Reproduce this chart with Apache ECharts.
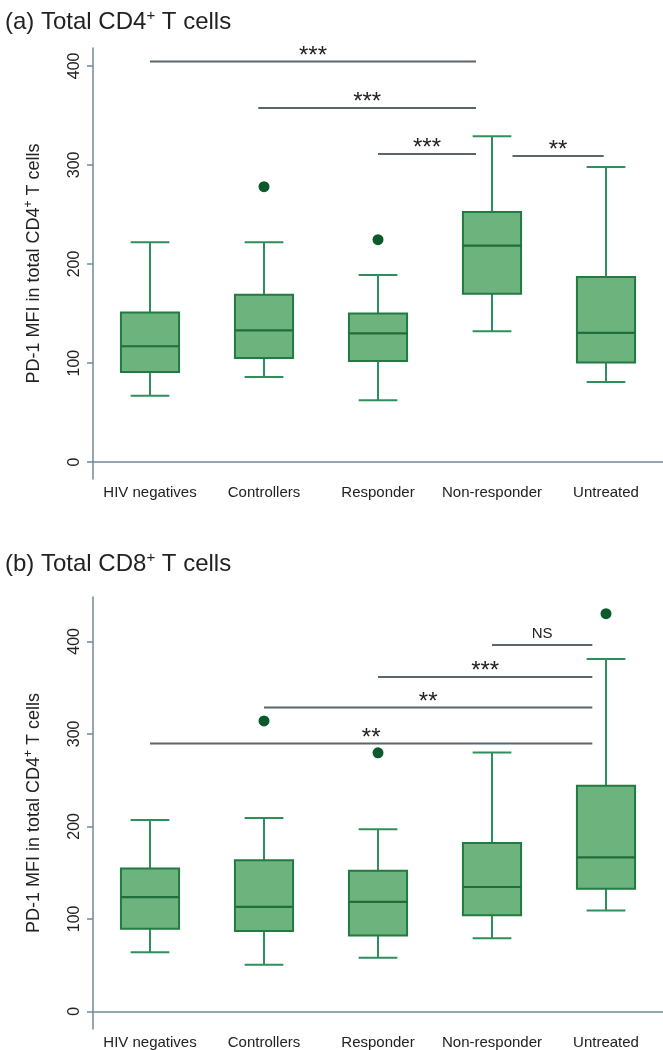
<!DOCTYPE html>
<html>
<head>
<meta charset="utf-8">
<script src="https://cdn.jsdelivr.net/npm/echarts@6/dist/echarts.min.js"></script>
<style>
html,body{margin:0;padding:0;background:#fff;}
#chart{width:663px;height:1050px;}
</style>
</head>
<body>
<div id="chart"></div>
<script>
const categories = ['HIV negatives', 'Controllers', 'Responder', 'Non-responder', 'Untreated'];
const yTicks = [0, 100, 200, 300, 400];

// [low whisker, Q1, median, Q3, high whisker]
const cd4Box = [
  [67, 91, 117, 151, 222],
  [86, 105, 133, 169, 222],
  [62.5, 102, 130, 150, 189],
  [132, 170, 218.5, 252.5, 329],
  [81, 100.5, 130.5, 187, 298]
];
const cd4Outliers = [[1, 278], [2, 224.5]];
// [start category pos, end category pos, value, label]
const cd4Sig = [
  [0, 2.86, 404.5, '***'],
  [0.95, 2.86, 357.5, '***'],
  [2, 2.86, 311, '***'],
  [3.18, 3.98, 309, '**']
];

const cd8Box = [
  [64, 89.5, 123.5, 154.5, 207],
  [50.5, 87, 113, 163.5, 209],
  [58, 82, 118.5, 152, 197],
  [79, 104, 134.5, 182, 280],
  [109, 132.5, 166.5, 244, 381]
];
const cd8Outliers = [[1, 314], [2, 279.5], [4, 430]];
const cd8Sig = [
  [3, 3.88, 396, 'NS'],
  [2, 3.88, 361.5, '***'],
  [1, 3.88, 328.5, '**'],
  [0, 3.88, 289.5, '**']
];

const FONT = '"Liberation Sans", Arial, Helvetica, sans-serif';
const AXIS_COLOR = '#6f8a96';
const BOX_FILL = '#6db37e';
const BOX_STROKE = '#237a43';
const WHISKER = '#2f8f5b';
const OUTLIER = '#0a5a2b';
const SIG = '#5b666a';

function xPos(api, pos, v) {
  const base = Math.floor(pos);
  const p = api.coord([base, v]);
  const band = api.size([1, 0])[0];
  return [p[0] + (pos - base) * band, p[1]];
}

function boxRender(params, api) {
  const idx = api.value(0);
  const lo = api.coord([idx, api.value(1)]);
  const q1 = api.coord([idx, api.value(2)]);
  const md = api.coord([idx, api.value(3)]);
  const q3 = api.coord([idx, api.value(4)]);
  const hi = api.coord([idx, api.value(5)]);
  const band = api.size([1, 0])[0];
  const bw = band * 0.51, cw = band * 0.34;
  const x = lo[0];
  const ws = { stroke: WHISKER, lineWidth: 2 };
  return {
    type: 'group',
    children: [
      { type: 'line', shape: { x1: x, y1: q3[1], x2: x, y2: hi[1] }, style: ws },
      { type: 'line', shape: { x1: x, y1: q1[1], x2: x, y2: lo[1] }, style: ws },
      { type: 'line', shape: { x1: x - cw / 2, y1: hi[1], x2: x + cw / 2, y2: hi[1] }, style: ws },
      { type: 'line', shape: { x1: x - cw / 2, y1: lo[1], x2: x + cw / 2, y2: lo[1] }, style: ws },
      { type: 'rect', shape: { x: x - bw / 2, y: q3[1], width: bw, height: q1[1] - q3[1] },
        style: { fill: BOX_FILL, stroke: BOX_STROKE, lineWidth: 2 } },
      { type: 'line', shape: { x1: x - bw / 2, y1: md[1], x2: x + bw / 2, y2: md[1] },
        style: { stroke: '#1f6e3c', lineWidth: 2.2 } }
    ]
  };
}

function sigRenderFactory(arr) {
  return function (params, api) {
    const d = arr[params.dataIndex];
    const a = xPos(api, d[0], d[2]);
    const b = xPos(api, d[1], d[2]);
    const isNS = d[3] === 'NS';
    return {
      type: 'group',
      children: [
        { type: 'line', shape: { x1: a[0], y1: a[1], x2: b[0], y2: b[1] },
          style: { stroke: SIG, lineWidth: 2 } },
        { type: 'text', x: (a[0] + b[0]) / 2, y: a[1] - (isNS ? 11 : 5.5),
          style: { text: d[3], fill: '#222', font: (isNS ? '15px ' : '24px ') + FONT,
                   align: 'center', verticalAlign: 'middle' } }
      ]
    };
  };
}

function yAxisFor(gridIndex, min, max) {
  return {
    type: 'value', gridIndex: gridIndex, min: min, max: max,
    name: 'PD-1 MFI in total CD4{sup|+} T cells',
    nameLocation: 'middle', nameGap: 48, nameRotate: 90,
    nameTextStyle: {
      fontSize: 18, color: '#222', fontFamily: FONT,
      rich: { sup: { fontSize: 12, fontFamily: FONT, color: '#222', verticalAlign: 'top', padding: [0, 0, 10, 0] } }
    },
    axisLine: { show: true, lineStyle: { color: AXIS_COLOR, width: 1.5 } },
    axisTick: { show: true, length: 6, customValues: yTicks, lineStyle: { color: AXIS_COLOR, width: 1.5 } },
    axisLabel: { customValues: yTicks, rotate: 90, fontSize: 16, color: '#222', fontFamily: FONT, margin: 10 },
    splitLine: { show: false }
  };
}

function xAxisFor(gridIndex) {
  return {
    type: 'category', gridIndex: gridIndex, data: categories,
    axisLine: { show: true, lineStyle: { color: AXIS_COLOR, width: 1.5 } },
    axisTick: { show: false },
    axisLabel: { fontSize: 15, color: '#222', fontFamily: FONT, margin: 6, interval: 0 },
    splitLine: { show: false }
  };
}

const titleRich = { sup: { fontSize: 15, fontFamily: FONT, color: '#222', verticalAlign: 'top', padding: [0, 0, 13, 0] } };

const option = {
  backgroundColor: '#fff',
  animation: false,
  title: [
    { text: '(a) Total CD4{sup|+} T cells', left: 0, top: 3,
      textStyle: { fontSize: 24, fontWeight: 'normal', color: '#222', fontFamily: FONT, rich: titleRich } },
    { text: '(b) Total CD8{sup|+} T cells', left: 0, top: 545,
      textStyle: { fontSize: 24, fontWeight: 'normal', color: '#222', fontFamily: FONT, rich: titleRich } }
  ],
  grid: [
    { left: 93, width: 570, top: 48, height: 431 },
    { left: 93, width: 570, top: 597, height: 432 }
  ],
  xAxis: [xAxisFor(0), xAxisFor(1)],
  yAxis: [yAxisFor(0, -17, 418), yAxisFor(1, -19, 448)],
  series: [
    { type: 'custom', xAxisIndex: 0, yAxisIndex: 0, renderItem: boxRender,
      encode: { x: 0, y: [1, 2, 3, 4, 5] },
      data: cd4Box.map((r, i) => [i].concat(r)) },
    { type: 'scatter', xAxisIndex: 0, yAxisIndex: 0, symbolSize: 11,
      itemStyle: { color: OUTLIER, opacity: 1 }, data: cd4Outliers },
    { type: 'custom', xAxisIndex: 0, yAxisIndex: 0, renderItem: sigRenderFactory(cd4Sig),
      encode: { x: 0, y: 2 }, data: cd4Sig.map(d => [d[0], d[1], d[2]]) },

    { type: 'custom', xAxisIndex: 1, yAxisIndex: 1, renderItem: boxRender,
      encode: { x: 0, y: [1, 2, 3, 4, 5] },
      data: cd8Box.map((r, i) => [i].concat(r)) },
    { type: 'scatter', xAxisIndex: 1, yAxisIndex: 1, symbolSize: 11,
      itemStyle: { color: OUTLIER, opacity: 1 }, data: cd8Outliers },
    { type: 'custom', xAxisIndex: 1, yAxisIndex: 1, renderItem: sigRenderFactory(cd8Sig),
      encode: { x: 0, y: 2 }, data: cd8Sig.map(d => [d[0], d[1], d[2]]) }
  ]
};

const chart = echarts.init(document.getElementById('chart'), null, { renderer: 'canvas' });
chart.setOption(option);
</script>
</body>
</html>
